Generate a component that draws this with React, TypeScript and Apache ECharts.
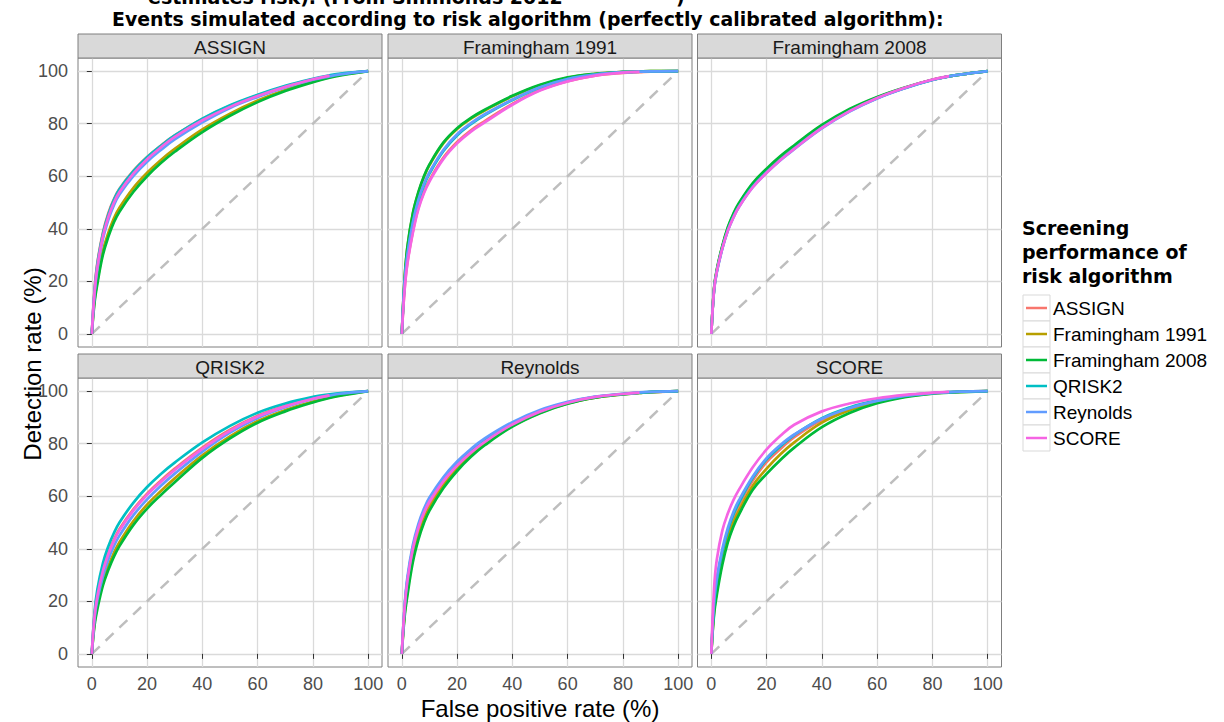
import React, { useEffect, useRef } from "react";
import * as echarts from "echarts";

// ---------- data ----------
const panelNames = ["ASSIGN", "Framingham 1991", "Framingham 2008", "QRISK2", "Reynolds", "SCORE"];
const algorithms = ["ASSIGN", "Framingham 1991", "Framingham 2008", "QRISK2", "Reynolds", "SCORE"];
const algorithmColors = ["#F8766D", "#B79F00", "#00BA38", "#00BFC4", "#619CFF", "#F564E3"];
const falsePositiveRate = [0, 1, 2, 4, 6, 8, 10, 15, 20, 25, 30, 40, 50, 60, 70, 80, 86, 90, 100];
const axisTicks = [0, 20, 40, 60, 80, 100];

// detection rate (%) per panel, rows in algorithm order:
// ASSIGN, Framingham 1991, Framingham 2008, QRISK2, Reynolds, SCORE
const detectionAssign = [
  [0, 17, 27, 38.5, 46, 51.3, 55.2, 62, 67.3, 71.7, 75.5, 81.8, 86.8, 90.8, 94.1, 96.9, 98.2, 98.9, 100],
  [0, 13, 20, 31.5, 38.5, 44, 48, 55.5, 61.3, 66.2, 70.4, 77.8, 83.8, 88.8, 92.8, 96, 97.7, 98.6, 100],
  [0, 12, 19, 30, 37, 42.5, 46.5, 54, 60, 65, 69.3, 76.8, 83, 88.2, 92.4, 95.8, 97.5, 98.4, 100],
  [0, 16.5, 26.5, 38, 45.5, 51, 55, 61.8, 67.2, 71.6, 75.5, 81.9, 87, 91, 94.4, 97.1, 98.4, 99.1, 100],
  [0, 15.5, 24.5, 36, 43.5, 49, 53, 60, 65.5, 70, 74, 80.5, 86, 90.2, 93.8, 96.7, 98, 98.8, 100],
  [0, 16, 25.5, 37, 44.5, 50, 54, 61, 66.5, 71, 75, 81.3, 86.4, 90.5, 94, 96.9, 98.3, null, null],
];
const detectionFram1991 = [
  [0, 17, 27, 39, 48, 54, 58.5, 67, 73, 77.5, 81, 87.5, 92.8, 96.2, 98.3, 99.3, 99.6, 99.8, 100],
  [0, 20.7, 32.7, 45.7, 53.7, 59.7, 64.2, 72.5, 78, 81.9, 85, 90.4, 94.6, 97.5, 99, 99.7, 99.9, 100, 100],
  [0, 21, 33, 46, 54, 60, 64.5, 72.8, 78.3, 82.2, 85.3, 90.6, 94.8, 97.6, 99, 99.7, 99.9, 100, 100],
  [0, 19, 29.5, 42, 50.5, 56.5, 61, 69.5, 75.5, 79.8, 83.3, 89, 93.8, 97, 98.7, 99.6, 99.8, 99.9, 100],
  [0, 19.5, 30, 42.5, 51, 57, 61.5, 70, 76, 80.2, 83.6, 89.2, 93.9, 97, 98.7, 99.6, 99.8, 99.9, 100],
  [0, 16.5, 26.5, 38.5, 47.5, 53.5, 58, 66.5, 72.5, 77, 80.5, 87.2, 92.6, 96.1, 98.3, 99.4, 99.7, null, null],
];
const detectionFram2008 = [
  [0, 17, 24, 33, 40, 45, 49, 56.5, 62, 66.8, 71, 78.8, 85, 89.8, 93.6, 96.7, 98, 98.7, 100],
  [0, 17.3, 24.3, 33.3, 40.4, 45.4, 49.4, 57, 62.5, 67.3, 71.4, 79.2, 85.3, 90, 93.7, 96.7, 98, 98.7, 100],
  [0, 17.5, 24.6, 33.6, 40.7, 45.8, 49.8, 57.4, 62.9, 67.7, 71.8, 79.5, 85.6, 90.2, 93.8, 96.7, 98, 98.7, 100],
  [0, 16.8, 23.8, 32.7, 39.6, 44.6, 48.6, 56.1, 61.6, 66.4, 70.6, 78.5, 84.8, 89.7, 93.5, 96.6, 98, 98.7, 100],
  [0, 16.5, 23.5, 32.4, 39.3, 44.3, 48.3, 55.8, 61.3, 66.1, 70.3, 78.2, 84.6, 89.6, 93.5, 96.6, 98, 98.7, 100],
  [0, 16.8, 23.8, 32.6, 39.4, 44.3, 48.3, 55.8, 61.3, 66.2, 70.4, 78.4, 84.8, 89.8, 93.7, 96.8, 98.1, null, null],
];
const detectionQrisk2 = [
  [0, 15, 22.5, 32, 38.5, 43.5, 47.5, 55, 61, 66, 70.5, 78.5, 85.3, 90.6, 94.4, 97.2, 98.4, 99, 100],
  [0, 12, 18.5, 27.5, 33.5, 38.5, 42.5, 50.5, 56.8, 62, 66.8, 75.6, 82.8, 88.6, 92.8, 96, 97.6, 98.5, 100],
  [0, 11, 17, 26, 32, 37, 41, 49, 55.3, 60.5, 65.3, 74.6, 82, 88, 92.3, 95.7, 97.4, 98.3, 100],
  [0, 16, 24.5, 34.5, 41, 46, 50, 57.5, 63.5, 68.5, 72.8, 80.5, 86.8, 91.8, 95.3, 97.8, 98.8, 99.3, 100],
  [0, 13.5, 20.5, 29.5, 36, 41, 45, 52.7, 58.8, 64, 68.6, 77, 84.2, 89.8, 93.9, 97, 98.3, 99, 100],
  [0, 14.5, 22, 31.5, 38, 43, 47, 54.5, 60.5, 65.5, 70, 78, 84.9, 90.3, 94.2, 97.1, 98.4, null, null],
];
const detectionReynolds = [
  [0, 16, 25, 38, 46, 52, 56.5, 64.5, 70.8, 76, 80.2, 87, 91.9, 95.4, 97.6, 98.9, 99.4, 99.6, 100],
  [0, 15, 23.5, 36.5, 44.8, 51, 55.5, 63.8, 70.3, 75.6, 79.9, 86.8, 91.8, 95.3, 97.5, 98.8, 99.3, 99.6, 100],
  [0, 14, 22, 35, 43.5, 49.8, 54.5, 63, 69.6, 75, 79.4, 86.5, 91.6, 95.2, 97.5, 98.8, 99.3, 99.6, 100],
  [0, 17.5, 28, 40.5, 48.5, 54.2, 58.5, 66.2, 72.2, 77.1, 81.1, 87.6, 92.4, 95.7, 97.8, 98.9, 99.4, 99.7, 100],
  [0, 18, 29, 41.5, 49.5, 55.2, 59.5, 67.2, 73.2, 78, 82, 88.2, 92.8, 95.9, 97.9, 99, 99.5, 99.7, 100],
  [0, 17.5, 27.5, 40, 48, 53.7, 58, 65.7, 71.7, 76.6, 80.7, 87.3, 92.2, 95.6, 97.8, 98.9, 99.4, null, null],
];
const detectionScore = [
  [0, 18, 27, 38, 46, 52, 56.5, 66, 73, 78, 82.5, 89, 93.2, 96.2, 98.2, 99.2, 99.6, 99.8, 100],
  [0, 16, 24, 35.5, 44, 50, 54.5, 64, 70.5, 76, 80.5, 88, 92.7, 95.8, 97.9, 99.1, 99.5, 99.7, 100],
  [0, 15, 22.5, 34, 42.5, 48.5, 53, 62.5, 68.5, 73.8, 78.5, 86.3, 91.7, 95.4, 97.7, 99, 99.4, 99.6, 100],
  [0, 19, 28, 39, 47, 53, 57.5, 67, 74, 79, 83.3, 89.7, 93.8, 96.5, 98.3, 99.3, 99.6, 99.8, 100],
  [0, 20, 29, 40, 48, 54, 58.5, 67.5, 74.5, 79.5, 83.5, 89.5, 93.5, 96.3, 98.2, 99.2, 99.6, 99.8, 100],
  [0, 25, 36, 47, 53.5, 58.5, 62.5, 71, 77.8, 83, 87.2, 92.3, 95.3, 97.3, 98.6, 99.4, 99.7, null, null],
];
const panelData = [detectionAssign, detectionFram1991, detectionFram2008, detectionQrisk2, detectionReynolds, detectionScore];

const topTitleCut = "estimates risk). (From Simmonds 2012";
const mainTitle = "Events simulated according to risk algorithm (perfectly calibrated algorithm):";
const legendTitle = ["Screening", "performance of", "risk algorithm"];
const xTitle = "False positive rate (%)";
const yTitle = "Detection rate (%)";

// ---------- layout ----------
const colLeft = [78, 388, 697.5];
const rowTop = [58, 378];
const panelW = 304;
const panelH = 289;
const stripH = 24;
const SANS = '"Liberation Sans", Arial, sans-serif';
const VERD = '"DejaVu Sans", Verdana, sans-serif';

function buildOption() {
  const grid: any[] = [];
  const xAxis: any[] = [];
  const yAxis: any[] = [];
  const series: any[] = [];
  const graphic: any[] = [];

  panelNames.forEach((name, i) => {
    const r = Math.floor(i / 3);
    const c = i % 3;
    const left = colLeft[c];
    const top = rowTop[r];
    grid.push({
      left, top, width: panelW, height: panelH,
      show: true, borderColor: "#7f7f7f", borderWidth: 1, backgroundColor: "#ffffff",
      containLabel: false,
    });
    const bottomRow = r === 1;
    const leftCol = c === 0;
    xAxis.push({
      type: "value", gridIndex: i, min: -5, max: 105,
      axisLine: { show: false },
      axisTick: { show: bottomRow, customValues: axisTicks, length: 5, lineStyle: { color: "#333333" } },
      axisLabel: { show: bottomRow, customValues: axisTicks, fontSize: 18, color: "#4d4d4d", margin: 8, fontFamily: SANS },
      splitLine: { show: true, lineStyle: { color: "#dadada", width: 1.3 } },
    });
    yAxis.push({
      type: "value", gridIndex: i, min: -5, max: 105,
      axisLine: { show: false },
      axisTick: { show: leftCol, customValues: axisTicks, length: 5, lineStyle: { color: "#333333" } },
      axisLabel: { show: leftCol, customValues: axisTicks, fontSize: 18, color: "#4d4d4d", margin: 10, fontFamily: SANS },
      splitLine: { show: true, lineStyle: { color: "#dadada", width: 1.3 } },
    });
    // diagonal reference
    series.push({
      type: "line", xAxisIndex: i, yAxisIndex: i, silent: true, showSymbol: false, z: 1,
      data: [[0, 0], [100, 100]],
      lineStyle: { color: "#bebebe", width: 2.5, type: [11, 8] },
    });
    panelData[i].forEach((vals, k) => {
      const pts: any[] = [];
      vals.forEach((v, j) => { if (v !== null) pts.push([falsePositiveRate[j], v]); });
      series.push({
        name: algorithms[k], type: "line", xAxisIndex: i, yAxisIndex: i, z: 2 + k,
        showSymbol: false, smooth: 0.4,
        data: pts,
        lineStyle: { color: algorithmColors[k], width: 2.7 },
        itemStyle: { color: algorithmColors[k] },
      });
    });
    // strip
    graphic.push({
      type: "rect", shape: { x: left, y: top - stripH, width: panelW, height: stripH },
      style: { fill: "#d9d9d9", stroke: "#7f7f7f", lineWidth: 1 }, z: 10,
    });
    graphic.push({
      type: "text", x: left + panelW / 2, y: top - stripH / 2 + 1,
      style: { text: name, fill: "#1a1a1a", font: `19px ${SANS}`, align: "center", verticalAlign: "middle" }, z: 11,
    });
  });

  // titles
  graphic.push({
    type: "text", x: 148, y: 6,
    style: { text: topTitleCut, fill: "#000", font: `bold 19px ${VERD}`, align: "left", verticalAlign: "bottom" },
  });
  graphic.push({
    type: "text", x: 676, y: 6,
    style: { text: ")", fill: "#000", font: `bold 19px ${VERD}`, align: "left", verticalAlign: "bottom" },
  });
  graphic.push({
    type: "text", x: 112, y: 19,
    style: { text: mainTitle, fill: "#000", font: `bold 18.9px ${VERD}`, align: "left", verticalAlign: "middle" },
  });
  graphic.push({
    type: "text", x: 540, y: 708,
    style: { text: xTitle, fill: "#000", font: `24px ${SANS}`, align: "center", verticalAlign: "middle" },
  });
  graphic.push({
    type: "text", x: 32, y: 364, rotation: Math.PI / 2,
    style: { text: yTitle, fill: "#000", font: `24px ${SANS}`, align: "center", verticalAlign: "middle" },
  });

  // legend
  legendTitle.forEach((t, i) => {
    graphic.push({
      type: "text", x: 1022, y: 228 + 24 * i,
      style: { text: t, fill: "#000", font: `bold 19px ${VERD}`, align: "left", verticalAlign: "middle" },
    });
  });
  algorithms.forEach((a, i) => {
    const cy = 308 + 26 * i;
    graphic.push({
      type: "rect", shape: { x: 1023, y: cy - 13, width: 27, height: 26 },
      style: { fill: "#ffffff", stroke: "#d9d9d9", lineWidth: 1 },
    });
    graphic.push({
      type: "line", shape: { x1: 1026, y1: cy, x2: 1047, y2: cy },
      style: { stroke: algorithmColors[i], lineWidth: 2.5 },
    });
    graphic.push({
      type: "text", x: 1053, y: cy,
      style: { text: a, fill: "#000", font: `19px ${SANS}`, align: "left", verticalAlign: "middle" },
    });
  });

  return {
    animation: false,
    backgroundColor: "#ffffff",
    grid, xAxis, yAxis, series, graphic,
  };
}

export default function App() {
  const ref = useRef<HTMLDivElement>(null);
  useEffect(() => {
    if (!ref.current) return;
    const chart = echarts.init(ref.current, null, { renderer: "svg" });
    chart.setOption(buildOption() as any);
    return () => chart.dispose();
  }, []);
  return (
    <div
      ref={ref}
      style={{ position: "fixed", left: 0, top: 0, width: 1224, height: 722 }}
    />
  );
}
